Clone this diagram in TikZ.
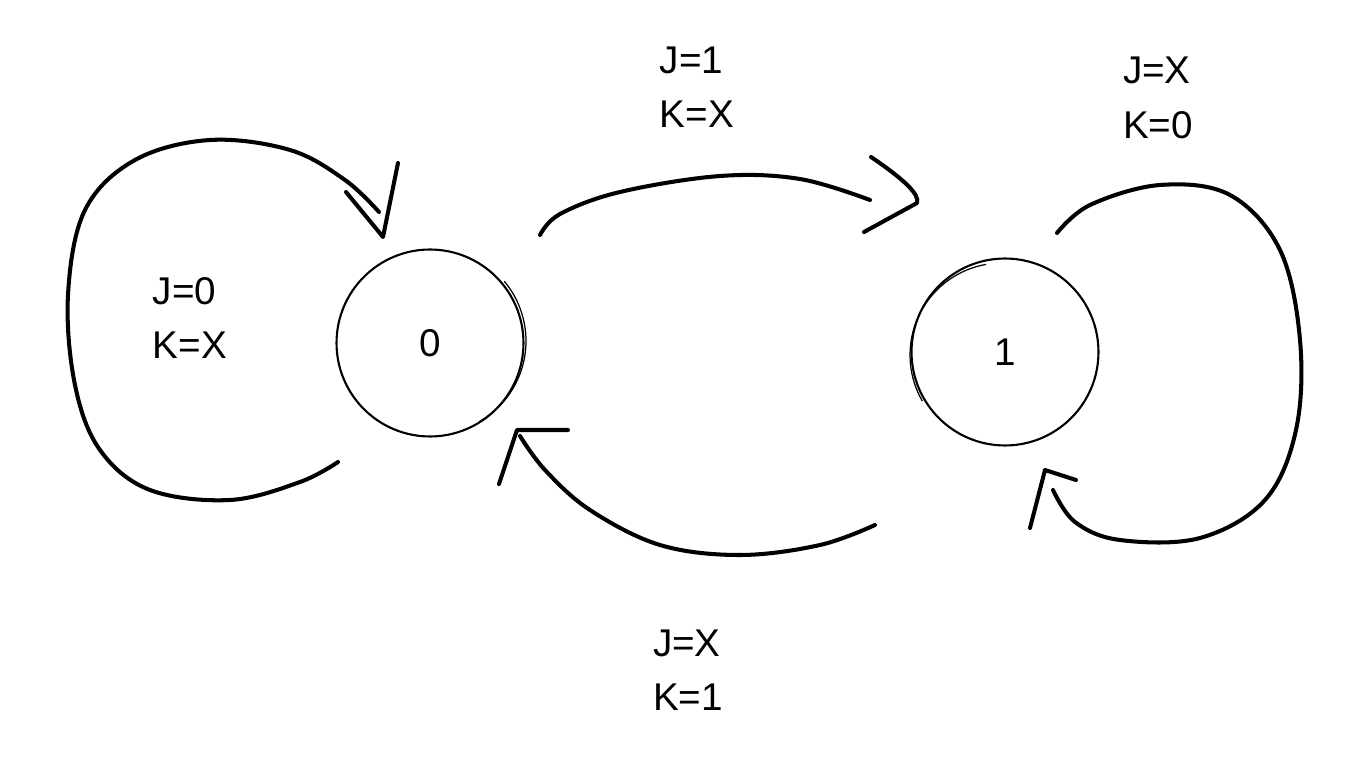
\documentclass[tikz,border=0pt]{standalone}
\usepackage{fontspec}
\setmainfont{Liberation Sans}
\begin{document}
\begin{tikzpicture}[x=0.02cm,y=-0.02cm,
  state/.style={circle,draw,line width=1.2pt,minimum size=3.74cm,inner sep=0pt,font=\fontsize{22}{26}\selectfont},
  arrowline/.style={line width=2.3pt,line cap=round,line join=round},
  lbl/.style={align=left,font=\fontsize{22}{31}\selectfont}]
\useasboundingbox (0,0) rectangle (1366,763);
\fill[white] (0,0) rectangle (1366,763);
% states
\node[state] (s0) at (430,343) {0};
\node[state] (s1) at (1005,352) {1};
\draw[line width=0.7pt] ([shift={(3,-2)}]s0.center) ++(60:93) arc (60:-40:93);
\draw[line width=0.7pt] ([shift={(-3,3)}]s1.center) ++(150:92) arc (150:260:92);
% labels
\node[lbl] (l00) at (190,318) {J=0\\K=X};
\node[lbl] (l01) at (697,87) {J=1\\K=X};
\node[lbl] (l11) at (1158,98) {J=X\\K=0};
\node[lbl] (l10) at (688,670) {J=X\\K=1};
% coordinates
\coordinate (a0) at (338,462);
\coordinate (t0) at (383,237);
\coordinate (a1) at (540,235);
\coordinate (t1) at (917,203);
\coordinate (a2) at (875,525);
\coordinate (t2) at (517,430);
\coordinate (a3) at (1057,233);
\coordinate (t3) at (1045,470);
% self loop on 0
\draw[arrowline] plot[smooth,tension=0.6] coordinates {(a0) (300,482) (230,500) (150,490) (100,450) (75,385) (68,295) (85,210) (135,160) (210,140) (290,150) (345,180) (379,212)};
\draw[arrowline] (346,192) -- (t0) -- (398,163);
% 0 -> 1
\draw[arrowline] plot[smooth,tension=0.6] coordinates {(a1) (560,214) (620,192) (720,176) (800,179) (870,200)};
\draw[arrowline] (871,157) .. controls (905,180) and (920,195) .. (t1) -- (864,232);
% 1 -> 0
\draw[arrowline] plot[smooth,tension=0.6] coordinates {(a2) (820,545) (740,555) (660,545) (590,510) (545,470) (520,436)};
\draw[arrowline] (568,430) -- (t2) -- (499,484);
% self loop on 1
\draw[arrowline] plot[smooth,tension=0.6] coordinates {(a3) (1090,205) (1160,185) (1230,195) (1280,250) (1300,340) (1296,430) (1265,500) (1200,538) (1120,540) (1075,522) (1053,490)};
\draw[arrowline] (1076,480) -- (t3) -- (1030,528);
\end{tikzpicture}
\end{document}
